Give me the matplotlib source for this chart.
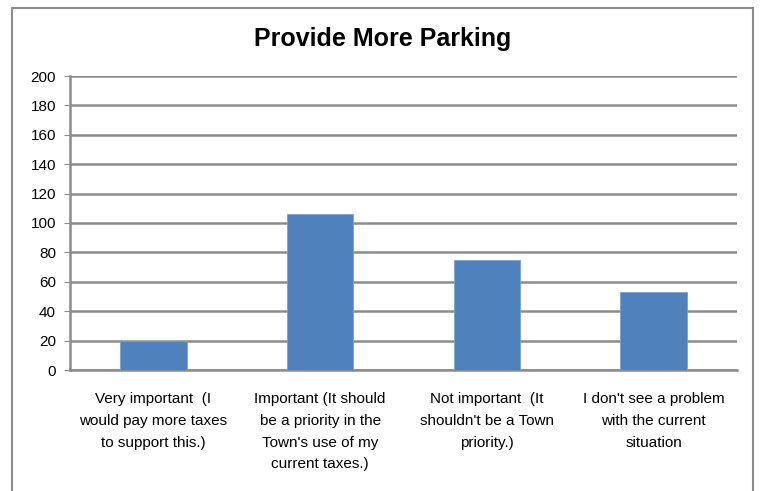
import matplotlib
matplotlib.use("Agg")
import matplotlib.pyplot as plt
from matplotlib.patches import Rectangle

categories = [
    "Very important  (I\nwould pay more taxes\nto support this.)",
    "Important (It should\nbe a priority in the\nTown's use of my\ncurrent taxes.)",
    "Not important  (It\nshouldn't be a Town\npriority.)",
    "I don't see a problem\nwith the current\nsituation",
]
values = [20, 106, 75, 53]
yticks = [0, 20, 40, 60, 80, 100, 120, 140, 160, 180, 200]
title = "Provide More Parking"

plt.rcParams['font.family'] = ['Liberation Sans', 'DejaVu Sans']

fig = plt.figure(figsize=(7.65, 4.91), dpi=100)
fig.patch.set_facecolor('white')
fig.patches.append(Rectangle((12/765, -0.05), (753-12)/765, 1.05 - 8/491,
                             transform=fig.transFigure, fill=False,
                             edgecolor='#8c8c8c', linewidth=1.5))

ax = fig.add_axes([70/765, (491-370)/491, (737-70)/765, (370-76)/491])
x = range(len(values))
ax.bar(x, values, width=0.4, color='#4f81bd', edgecolor='#7ba0d0', linewidth=0.6, zorder=3)
ax.set_xlim(-0.5, len(values) - 0.5)
ax.set_ylim(0, 200)
ax.set_yticks(yticks)
ax.set_yticklabels([str(v) for v in yticks], fontsize=11)
ax.yaxis.grid(True, color='#8c8c8c', linewidth=1.8, zorder=0)
ax.set_axisbelow(True)
ax.set_xticks(list(x))
ax.set_xticklabels(categories, fontsize=11, linespacing=1.7, va='top')
ax.tick_params(axis='x', length=0, pad=16)
ax.tick_params(axis='y', length=4, color='#8c8c8c', pad=6)
for s in ['top', 'right']:
    ax.spines[s].set_visible(False)
for s in ['left', 'bottom']:
    ax.spines[s].set_color('#8c8c8c')
    ax.spines[s].set_linewidth(1.8)

fig.text(0.5, 1 - 39/491, title, ha='center', va='center', fontsize=18, fontweight='bold')

fig.savefig("out.png", dpi=100)
